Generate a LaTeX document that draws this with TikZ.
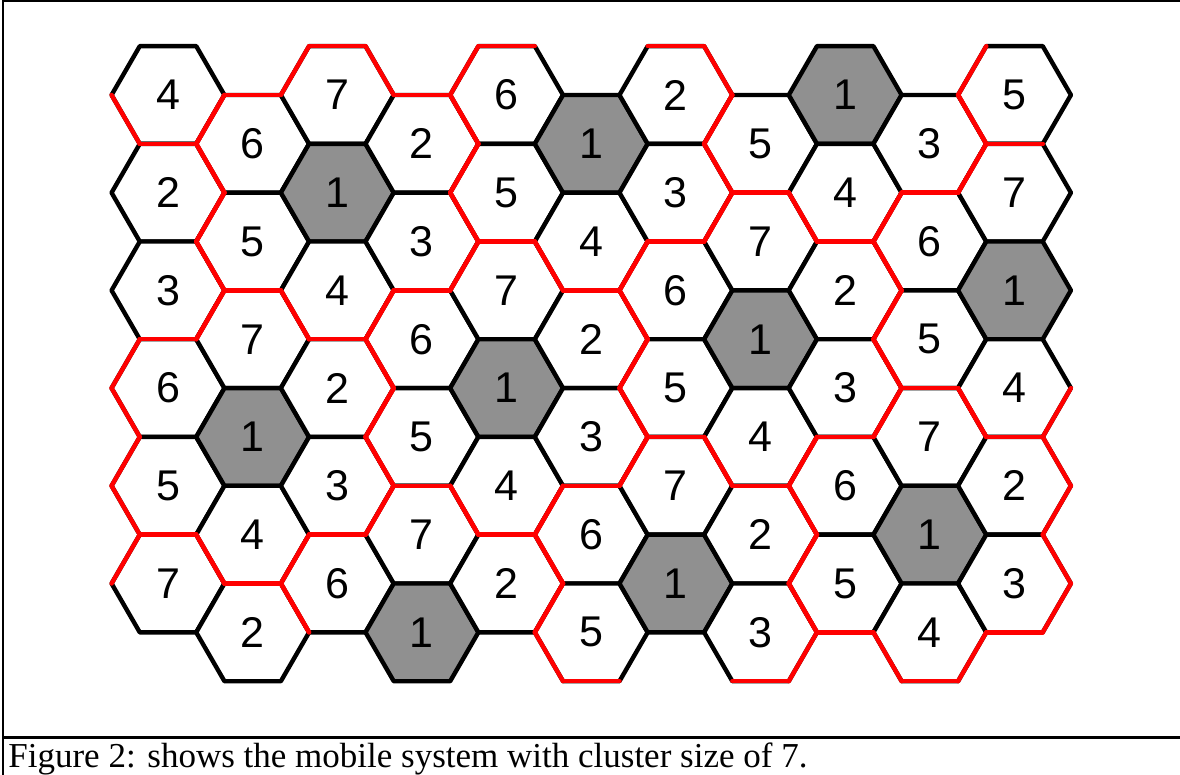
\documentclass[tikz,border=0pt]{standalone}
\usepackage{fontspec}
\setmainfont{Liberation Serif}
\newfontfamily\digitfont{Liberation Sans}
\usetikzlibrary{positioning}
\definecolor{cellGray}{HTML}{909090}
\definecolor{clusterRed}{HTML}{FF0000}

% labels of the cells, column by column (top to bottom)
\def\celldata{0/{4,2,3,6,5,7}, 1/{6,5,7,1,4,2}, 2/{7,1,4,2,3,6}, 3/{2,3,6,5,7,1},
    4/{6,5,7,1,4,2}, 5/{1,4,2,3,6,5}, 6/{2,3,6,5,7,1}, 7/{5,7,1,4,2,3},
    8/{1,4,2,3,6,5}, 9/{3,6,5,7,1,4}, 10/{5,7,1,4,2,3}}
% outer edges left black (column-row-edge normal)
\expandafter\def\csname skip-1-5-330\endcsname{}
\expandafter\def\csname skip-10-1-30\endcsname{}

\begin{document}
\begin{tikzpicture}[
    x=0.5pt, y=0.5pt,
    cellline/.style={draw=black, line width=2.2pt, line join=round},
    clusterline/.style={draw=clusterRed, line width=2.2pt, line join=round, line cap=round},
    digit/.style={font=\digitfont\fontsize{21.5}{24}\selectfont, inner sep=0pt},
]
    \useasboundingbox (0,0) rectangle (1180,-775);
    \def\rad{56.43}

    % Cells
    \foreach \col/\labs in \celldata {
        \foreach \lab [count=\row from 0] in \labs {
            \pgfmathsetmacro\cx{168+84.65*\col}
            \pgfmathsetmacro\cy{-(95+97.7*\row+48.85*mod(\col,2))}
            \coordinate (cell-\col-\row) at (\cx,\cy);
            \def\shade{white}
            \ifnum\lab=1 \def\shade{cellGray}\fi
            \draw[cellline, fill=\shade, shift={(cell-\col-\row)}]
                (0:\rad) \foreach \a in {60,120,...,300} {-- (\a:\rad)} -- cycle;
            \node[digit] (num-\col-\row) at (cell-\col-\row) {\lab};
        }
    }

    % Cluster borders (the three edges facing away from the cluster centre)
    \foreach \col/\labs in \celldata {
        \foreach \lab [count=\row from 0] in \labs {
            \ifnum\lab>1
                \pgfmathsetmacro\away{{0,210,150,90,30,330,270}[int(\lab-1)]}
                \foreach \k in {120,180,240} {
                    \pgfmathtruncatemacro\nrm{mod(\away+\k,360)}
                    \ifcsname skip-\col-\row-\nrm\endcsname\else
                        \draw[clusterline, shift={(cell-\col-\row)}]
                            (\nrm-30:\rad) -- (\nrm+30:\rad);
                    \fi
                }
            \fi
        }
    }

    % Frame and caption
    \draw[line width=1pt] (1180,-1) -- (3,-1) -- (3,-775);
    \draw[line width=1.5pt] (3,-737) -- (1180,-737);
    \node[anchor=base west, font=\fontsize{17.5}{21}\selectfont, inner sep=0pt] (caption) at (8,-767)
        {Figure 2: shows the mobile system with cluster size of 7.};
\end{tikzpicture}
\end{document}
